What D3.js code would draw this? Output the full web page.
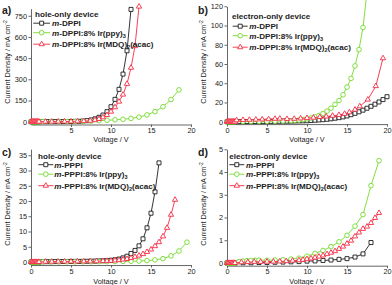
<!DOCTYPE html>
<head>
    <meta charset="utf-8">
    <script src="https://d3js.org/d3.v7.min.js"></script>
    <style>
        body { margin: 0; background: #fff; }
        svg text { font-family: "Liberation Sans", Arial, sans-serif; fill: #222; }
        .axis path, .axis line { stroke: #555; stroke-width: 0.9; }
        .axis text { font-size: 7.3px; }
        .ttl { font-size: 7.3px; }
        .lab { font-size: 10.5px; font-weight: bold; }
        .leg { font-size: 8.1px; font-weight: bold; }
    </style>
</head>

<body>
    <div id="chart-container"></div>
</body>

<script>
    // ---- data, [voltage (V), current density (mA cm-2)] ----
    var lowV = [[0,0],[0.1,0],[0.2,0],[0.3,0],[0.4,0],[0.5,0],[0.6,0],[0.7,0],[0.8,0],[0.9,0],[1,0]];

    // a) hole-only, m-DPPI
    var aDPPI = [[1.5,0.2],[2,0.3],[2.5,0.4],[3,0.5],[3.5,0.6],[4,0.8],[4.5,1],[5,1.3],[5.5,2],[6,3],[6.5,4.5],[7,7],[7.5,12],[8,20],[8.5,31],[9,47],[9.5,71],[10,106],[10.5,158],[11,229],[11.5,337],[12,502],[12.5,795]];
    var aDPPIppy = [[1.5,0.2],[2.5,0.4],[3.5,0.6],[4.5,0.9],[5.5,1.3],[6.5,2],[7.5,4],[8.5,7],[9.5,10],[10.5,13],[11.5,17],[12.5,23],[13.5,32],[14.5,48],[15.5,71],[16.5,106],[17.5,157],[18.5,225]];
    var aDPPImdq = [[1.8,0.3],[2.6,0.5],[3.4,0.7],[4.2,1],[5,1.5],[5.8,2.5],[6.6,4],[7.4,6.5],[8,11],[8.5,19],[9,31],[9.5,47],[10,71],[10.5,102],[11,142],[11.5,192],[12,268],[12.5,382],[13,535],[13.5,815]];

    // b) electron-only, m-DPPI
    var bDPPI = [[1.5,0.1],[2,0.1],[2.5,0.15],[3,0.2],[3.5,0.2],[4,0.25],[4.5,0.3],[5,0.3],[5.5,0.35],[6,0.4],[6.5,0.45],[7,0.5],[7.5,0.55],[8,0.6],[8.5,0.7],[9,0.8],[9.5,0.9],[10,1.0],[10.5,1.2],[11,1.5],[11.5,1.8],[12,2.1],[12.5,2.5],[13,3],[13.5,3.6],[14,4.2],[14.5,5],[15,6],[15.5,7.3],[16,8.7],[16.5,10.3],[17,12],[17.5,14],[18,16],[18.5,18.2],[19,20.5],[19.5,23],[20,26]];
    var bDPPIppy = [[2,0.1],[3,0.2],[4,0.3],[5,0.4],[6,0.5],[7,0.7],[8,1.1],[8.5,1.4],[9,1.8],[9.5,2.3],[10,3],[10.5,3.8],[11,5],[11.5,6.5],[12,8.5],[12.5,11],[13,14],[13.5,18],[14,22],[14.5,28],[15,36],[15.5,45],[16,58],[16.5,75],[17,98],[17.5,135]];
    var bDPPImdq = [[1.2,1.5],[2,1.8],[2.8,2],[3.6,2.2],[4.4,2.4],[5.2,2.6],[6,3],[6.6,3.2],[7.5,2.8],[8.4,3],[9.2,3.4],[10,3.8],[10.8,4.2],[11.6,4.8],[12.4,5.4],[13.2,6.2],[14,7],[14.7,8.2],[15.3,9.8],[16,12.5],[16.6,16],[17.6,23],[18.6,37],[19.5,66]];

    // c) hole-only, m-PPPI
    var cPPPI = [[1.5,0.1],[2,0.1],[2.5,0.12],[3,0.14],[3.5,0.15],[4,0.16],[4.5,0.17],[5,0.18],[5.5,0.2],[6,0.2],[6.5,0.22],[7,0.25],[7.5,0.28],[8,0.3],[8.5,0.35],[9,0.4],[9.5,0.45],[10,0.55],[10.5,0.72],[11,0.95],[11.5,1.35],[12,1.9],[12.5,2.8],[13,3.8],[13.5,5.3],[14,7.6],[14.5,11.2],[15,16],[15.5,23],[16,32.5]];
    var cPPPIppy = [[1.5,0.02],[2.5,0.03],[3.5,0.04],[4.5,0.05],[5.5,0.06],[6.5,0.07],[7.5,0.08],[8.5,0.1],[9.5,0.12],[10.5,0.15],[11.5,0.2],[12.5,0.25],[13.5,0.33],[14.5,0.45],[15.5,0.7],[16.5,1.1],[17.5,2.0],[18.5,3.6],[19.5,6.5]];
    var cPPPImdq = [[1.8,0.1],[2.6,0.12],[3.4,0.14],[4.2,0.15],[5,0.17],[5.8,0.18],[6.6,0.2],[7.4,0.22],[8.2,0.25],[9,0.3],[9.5,0.35],[10,0.4],[10.5,0.5],[11,0.6],[11.5,0.8],[12,1.0],[12.5,1.3],[13,1.7],[13.5,2.1],[14,2.6],[14.5,3.3],[15,4.1],[15.5,5.2],[16,6.5],[16.5,8.4],[17,11.2],[17.5,15.5],[18,20.4]];

    // d) electron-only, m-PPPI
    var dPPPI = [[2,0.01],[3,0.01],[4,0.02],[5,0.02],[6,0.03],[7,0.04],[8,0.05],[9,0.06],[10,0.08],[11,0.09],[12,0.11],[13,0.13],[14,0.16],[15,0.19],[16,0.26],[17,0.4],[18,0.9]];
    var dPPPIppy = [[1.5,0.06],[2,0.08],[2.5,0.1],[3,0.11],[3.5,0.12],[4,0.12],[5,0.12],[6,0.13],[7,0.14],[8,0.17],[9,0.21],[10,0.3],[11,0.42],[12,0.55],[13,0.72],[14,0.93],[15,1.22],[16,1.62],[17,2.13],[18,3.4],[19,4.5]];
    var dPPPImdq = [[1.8,0.03],[2.6,0.04],[3.4,0.05],[4.2,0.05],[5,0.06],[5.8,0.06],[6.6,0.07],[7.4,0.08],[8.2,0.1],[9,0.12],[9.5,0.14],[10,0.17],[10.5,0.2],[11,0.24],[11.5,0.28],[12,0.33],[12.5,0.39],[13,0.45],[13.5,0.52],[14,0.62],[14.5,0.72],[15,0.85],[15.5,0.98],[16,1.17],[16.5,1.34],[17,1.5],[17.5,1.6],[18,1.76],[18.5,1.98],[19,2.2]];

    // tick values
    var xTicks = [0, 5, 10, 15, 20];
    var aXTicks = [5, 10, 15, 20];
    var aYTicks = [0, 150, 300, 450, 600, 750];
    var bYTicks = [0, 20, 40, 60, 80, 100, 120];
    var cYTicks = [0, 5, 10, 15, 20, 25, 30, 35];
    var dYTicks = [0, 1, 2, 3, 4, 5];

    // legend text ("_" marks a subscript)
    var dppiNames = ["m-DPPI", "m-DPPI:8% Ir(ppy)_3", "m-DPPI:8% Ir(MDQ)_2(acac)"];
    var pppiNames = ["m-PPPI", "m-PPPI:8% Ir(ppy)_3", "m-PPPI:8% Ir(MDQ)_2(acac)"];

    var colors = ["#1e1e1e", "#74da2c", "#f42c44"];
    var shapes = [d3.symbolSquare, d3.symbolCircle, d3.symbolTriangle];
    var sizes = [16, 17, 12];

    var panels = [
        { label: "a)", ox: 0, oy: 0, title: "hole-only device", names: dppiNames,
          series: [aDPPI, aDPPIppy, aDPPImdq], xt: aXTicks, yt: aYTicks,
          yDom: [-20, 800], yRng: [124.5, 8.7],
          leg: { tx: 35, ty: 17, rows: [26, 35.5, 47], l1: 33.3, l2: 50, x: 52 } },
        { label: "b)", ox: 196, oy: 0, title: "electron-only device", names: dppiNames,
          series: [bDPPI, bDPPIppy, bDPPImdq], xt: xTicks, yt: bYTicks,
          yDom: [-2.5, 120], yRng: [124.1, 6.3],
          leg: { tx: 36, ty: 19, rows: [29, 38.5, 50], l1: 36.7, l2: 51.7, x: 53.3 } },
        { label: "c)", ox: 0, oy: 142, title: "hole-only device", names: pppiNames,
          series: [cPPPI, cPPPIppy, cPPPImdq], xt: xTicks, yt: cYTicks,
          yDom: [-1, 37], yRng: [123.05, 7.15],
          leg: { tx: 38, ty: 16.7, rows: [25.5, 35, 46.5], l1: 38.3, l2: 53.3, x: 54.3 } },
        { label: "d)", ox: 196, oy: 142, title: "electron-only device", names: pppiNames,
          series: [dPPPI, dPPPIppy, dPPPImdq], xt: xTicks, yt: dYTicks,
          yDom: [-0.12, 5], yRng: [123.7, 7.3],
          leg: { tx: 33.3, ty: 16.7, rows: [25.5, 35, 46.5], l1: 33.3, l2: 48.3, x: 50 } }
    ];

    var svg = d3.select("#chart-container").append("svg")
        .attr("width", 392)
        .attr("height", 285);

    // writes "m-DPPI:8% Ir(ppy)_3" with italic m and subscripts
    function richText(sel, str) {
        var parts = str.split(/_(\d)/);
        sel.append("tspan").style("font-style", "italic").text(parts[0].charAt(0));
        parts.forEach(function(p, i) {
            var t = i === 0 ? p.slice(1) : p;
            if (i % 2 === 1) {
                sel.append("tspan").attr("dy", 2.2).style("font-size", "5.5px").text(t);
            } else if (i > 0) {
                sel.append("tspan").attr("dy", -2.2).text(t);
            } else {
                sel.append("tspan").text(t);
            }
        });
    }

    panels.forEach(function(p) {
        var g = svg.append("g").attr("transform", "translate(" + p.ox + "," + p.oy + ")");

        var x = d3.scaleLinear().domain([0, 20]).range([31, 191]);
        var y = d3.scaleLinear().domain(p.yDom).range(p.yRng);

        g.append("g")
            .attr("class", "axis")
            .attr("transform", "translate(0," + p.yRng[0] + ")")
            .call(d3.axisBottom(x).tickValues(p.xt).tickFormat(d3.format("d"))
                .tickSize(2.5).tickSizeOuter(0).tickPadding(0.8));

        g.append("g")
            .attr("class", "axis")
            .attr("transform", "translate(31,0)")
            .call(d3.axisLeft(y).tickValues(p.yt).tickFormat(d3.format("d"))
                .tickSize(2.5).tickSizeOuter(0).tickPadding(1.5));

        g.append("text").attr("class", "lab").attr("x", 2).attr("y", 14).text(p.label);

        g.append("text").attr("class", "ttl")
            .attr("x", 111).attr("y", 141.6)
            .attr("text-anchor", "middle")
            .text("Voltage / V");

        var yt = g.append("text").attr("class", "ttl")
            .attr("transform", "translate(9.5,62) rotate(-90)")
            .attr("text-anchor", "middle");
        yt.append("tspan").text("Current Density / mA cm");
        yt.append("tspan").attr("dy", -2.5).style("font-size", "5px").text("-2");

        var line = d3.line()
            .x(function(d) { return x(d[0]); })
            .y(function(d) { return y(d[1]); });

        p.series.forEach(function(s, i) {
            var pts = lowV.concat(s);
            g.append("path")
                .attr("d", line(pts))
                .attr("fill", "none")
                .attr("stroke", colors[i])
                .attr("stroke-width", 0.9);
            g.selectAll(".m" + i)
                .data(pts)
                .enter()
                .append("path")
                .attr("class", "m" + i)
                .attr("transform", function(d) { return "translate(" + x(d[0]) + "," + y(d[1]) + ")"; })
                .attr("d", d3.symbol().type(shapes[i]).size(sizes[i]))
                .attr("fill", "#fff")
                .attr("stroke", colors[i])
                .attr("stroke-width", 0.9);
        });

        // legend
        var L = p.leg;
        g.append("text").attr("class", "leg").attr("x", L.tx).attr("y", L.ty).text(p.title);
        p.names.forEach(function(n, i) {
            var cy = L.rows[i] - 2.8;
            g.append("line")
                .attr("x1", L.l1).attr("x2", L.l2)
                .attr("y1", cy).attr("y2", cy)
                .attr("stroke", colors[i]).attr("stroke-width", 0.9);
            g.append("path")
                .attr("transform", "translate(" + (L.l1 + L.l2) / 2 + "," + cy + ")")
                .attr("d", d3.symbol().type(shapes[i]).size(sizes[i]))
                .attr("fill", "#fff")
                .attr("stroke", colors[i])
                .attr("stroke-width", 0.9);
            var t = g.append("text").attr("class", "leg").attr("x", L.x).attr("y", L.rows[i]);
            richText(t, n);
        });
    });
</script>
